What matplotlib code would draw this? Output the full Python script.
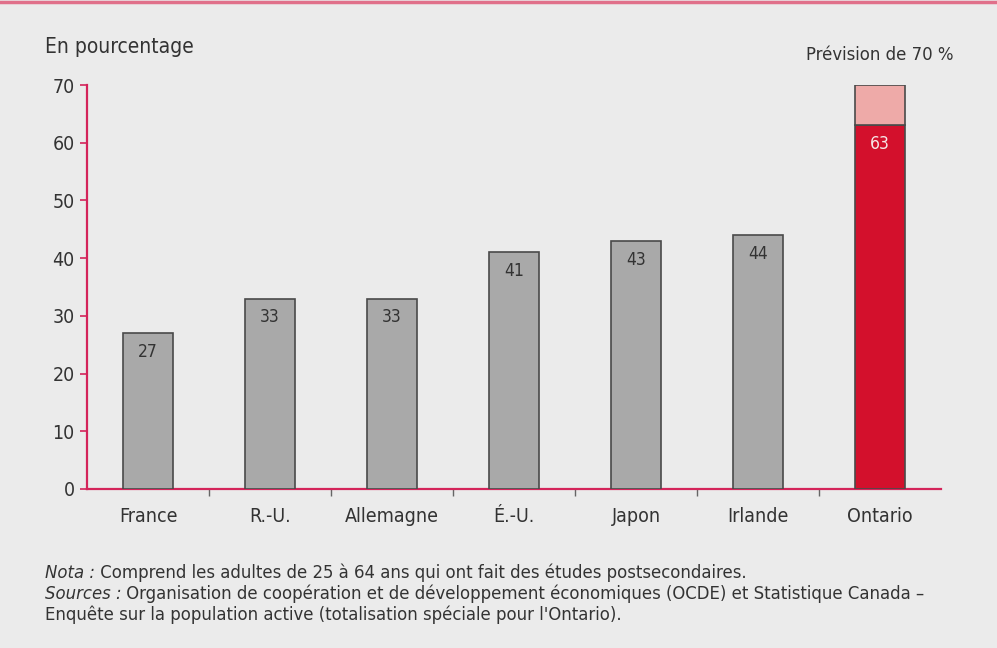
import matplotlib
matplotlib.use("Agg")
import matplotlib.pyplot as plt
from matplotlib.lines import Line2D

plt.rcParams['font.family'] = ['DejaVu Sans']
plt.rcParams['font.stretch'] = 'condensed'

# Proportion d'adultes ayant fait des études postsecondaires
pays = ["France", "R.-U.", "Allemagne", "É.-U.", "Japon", "Irlande", "Ontario"]
valeurs = [27, 33, 33, 41, 43, 44, 63]
prevision_ontario = 70

FOND = "#ebebeb"
ROUGE_AXE = "#d4245a"
GRIS_BARRE = "#a9a9a9"
ROUGE_BARRE = "#d3102c"
ROSE_PREV = "#eeaaa8"

fig = plt.figure(figsize=(9.97, 6.48), dpi=100, facecolor=FOND)
ax = fig.add_axes([0.0873, 0.2454, 0.8566, 0.6234], facecolor=FOND)

x = list(range(len(pays)))
couleurs = [GRIS_BARRE] * (len(pays) - 1) + [ROUGE_BARRE]
ax.bar(x, valeurs, width=0.41, color=couleurs, edgecolor="#4a4a4a", linewidth=1.2, zorder=3)

# partie prévue au-dessus de la valeur actuelle pour l'Ontario
ax.bar(x[-1], prevision_ontario - valeurs[-1], bottom=valeurs[-1], width=0.41,
       color=ROSE_PREV, edgecolor="#4a4a4a", linewidth=1.2, zorder=3)

for i, v in enumerate(valeurs):
    couleur_txt = "#f6e6e6" if i == len(valeurs) - 1 else "#333333"
    ax.annotate(str(v), xy=(i, v), xytext=(0, -7), textcoords="offset points",
                ha="center", va="top", fontsize=12.5, color=couleur_txt, zorder=4)

ax.text(x[-1], prevision_ontario + 3.6, "Prévision de 70 %", ha="center", va="bottom",
        fontsize=13.2, color="#333333")

ax.set_xlim(-0.5, len(pays) - 0.5)
ax.set_ylim(0, 70)
ax.set_yticks(range(0, 71, 10))
ax.set_xticks(x)
ax.set_xticklabels(pays)
ax.set_xticks([i + 0.5 for i in x[:-1]], minor=True)

for s in ["top", "right"]:
    ax.spines[s].set_visible(False)
for s in ["left", "bottom"]:
    ax.spines[s].set_color(ROUGE_AXE)
    ax.spines[s].set_linewidth(1.6)

ax.tick_params(axis="y", colors=ROUGE_AXE, length=5, width=1.2, labelcolor="#333333",
               labelsize=14, pad=4)
ax.tick_params(axis="x", which="major", length=0, labelcolor="#333333", labelsize=14, pad=13)
ax.tick_params(axis="x", which="minor", length=5, width=1, color="#666666")

fig.text(0.045, 0.928, "En pourcentage", fontsize=15, color="#333333", va="center")

# filet rouge en haut du cadre
fig.add_artist(Line2D([0, 1], [0.997, 0.997], color="#e0708a", linewidth=2.5,
                      transform=fig.transFigure))

# notes sous le graphique, avec les intitulés en italique
renderer = fig.canvas.get_renderer()
lignes = [
    ("Nota :", " Comprend les adultes de 25 à 64 ans qui ont fait des études postsecondaires."),
    ("Sources :", " Organisation de coopération et de développement économiques (OCDE) et Statistique Canada –"),
    ("", "Enquête sur la population active (totalisation spéciale pour l'Ontario)."),
]
y_px = [573, 594, 615]
for (tete, corps), yp in zip(lignes, y_px):
    yf = 1 - yp / 648
    x0 = 0.045
    if tete:
        t = fig.text(x0, yf, tete, fontsize=13.2, style="italic", color="#333333", va="center")
        bb = t.get_window_extent(renderer=renderer)
        x0 = bb.x1 / fig.bbox.width
    fig.text(x0, yf, corps, fontsize=13.2, color="#333333", va="center")

fig.savefig("out.png", dpi=100, facecolor=FOND)
